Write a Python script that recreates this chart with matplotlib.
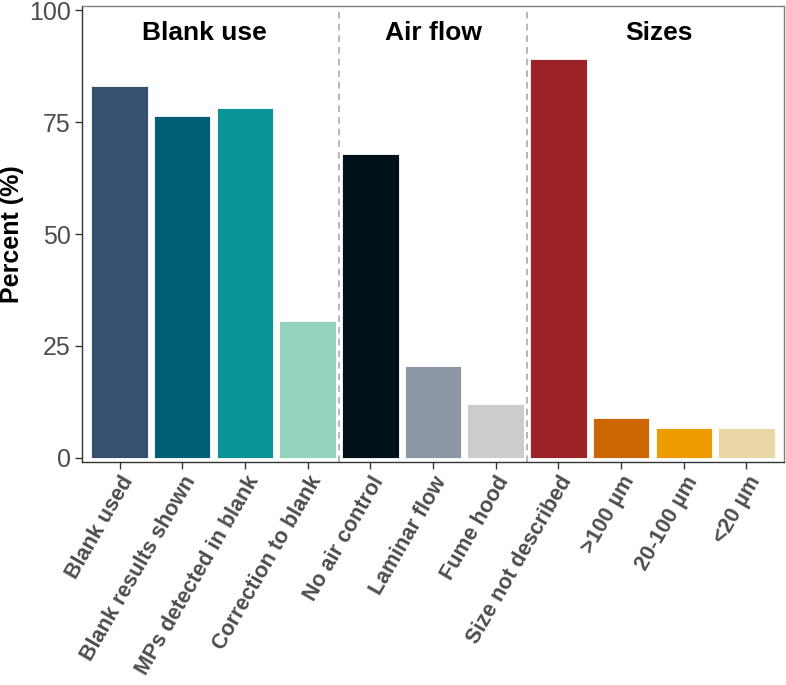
import matplotlib
matplotlib.use("Agg")
import matplotlib.pyplot as plt

plt.rcParams["font.family"] = ["Liberation Sans", "DejaVu Sans"]

# data
categories = ["Blank used", "Blank results shown", "MPs detected in blank",
              "Correction to blank", "No air control", "Laminar flow",
              "Fume hood", "Size not described", ">100 µm", "20-100 µm",
              "<20 µm"]
percent = [83.0, 76.4, 78.1, 30.6, 67.9, 20.4, 12.0, 89.2, 8.8, 6.5, 6.5]
colors = ["#36506F", "#005F73", "#0A9396", "#94D2BD", "#001219", "#8D97A5",
          "#CCCCCC", "#9B2226", "#CA6702", "#EE9B00", "#E9D8A6"]
groups = ["Blank use", "Air flow", "Sizes"]
group_pos = [1.36, 5.0, 8.6]
dividers = [3.5, 6.5]

fig = plt.figure(figsize=(7.86, 6.85), dpi=100)
ax = fig.add_axes([82 / 786, 1 - 462 / 685, (784 - 82) / 786, (462 - 6) / 685])

x = list(range(len(categories)))
ax.bar(x, percent, width=0.9, color=colors, edgecolor="white", linewidth=0.6)

for d in dividers:
    ax.axvline(d, color="#AAAAAA", linestyle=(0, (4, 3)), linewidth=1.2)

for g, gx in zip(groups, group_pos):
    ax.text(gx, 94.9, g, ha="center", va="center", fontsize=19,
            fontweight="bold", color="black")

ax.set_xlim(-0.6, 10.6)
ax.set_ylim(-1, 101)
ax.set_yticks([0, 25, 50, 75, 100])
ax.set_yticklabels(["0", "25", "50", "75", "100"], fontsize=18, color="#4D4D4D")
ax.set_xticks(x)
ax.set_xticklabels(categories, rotation=60, ha="right", va="top",
                   rotation_mode="anchor", fontsize=15.5, fontweight="bold",
                   color="#4D4D4D")
ax.tick_params(axis="both", length=5, width=1, color="#333333")
ax.tick_params(axis="x", pad=2.5)
ax.tick_params(axis="y", pad=3)

for s in ax.spines.values():
    s.set_color("#7F7F7F")
    s.set_linewidth(1)
ax.spines["left"].set_color("#333333")
ax.spines["bottom"].set_color("#333333")

ax.set_ylabel("Percent (%)", fontsize=18, fontweight="bold", color="black",
              va="center")
ax.yaxis.set_label_coords(-70 / 702, 0.5)

fig.savefig("out.png", dpi=100)
